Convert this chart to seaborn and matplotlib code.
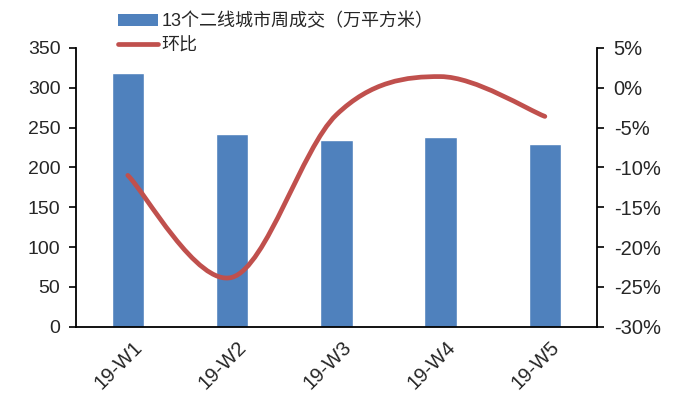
import numpy as np
import matplotlib
matplotlib.use("Agg")
import matplotlib.pyplot as plt
import matplotlib.transforms as mtransforms
from matplotlib.path import Path
from matplotlib.patches import PathPatch, Patch
from matplotlib.lines import Line2D
from matplotlib.ticker import MultipleLocator, FuncFormatter
import seaborn as sns

# Weekly transaction area of 13 second-tier cities and week-on-week change
weeks = ["19-W1", "19-W2", "19-W3", "19-W4", "19-W5"]
volume = [318, 242, 234, 238, 229]          # 万平方米
wow_pct = [-11.0, -23.8, -3.4, 1.4, -3.6]   # 环比, %

bar_label = "13个二线城市周成交（万平方米）"
line_label = "环比"

BLUE = "#4F81BD"
RED = "#C0504D"

sns.set_theme(style="white")
plt.rcParams["font.family"] = ["Liberation Sans", "Noto Sans CJK SC", "DejaVu Sans"]

fig = plt.figure(figsize=(6.9, 3.96), dpi=100)
ax = fig.add_axes([0.1097, 0.175, 0.7555, 0.704])

sns.barplot(x=weeks, y=volume, color=BLUE, width=0.31, saturation=1, ax=ax)
ax.set_xlim(-0.5, len(weeks) - 0.5)
ax.set_ylim(0, 350)
ax.yaxis.set_major_locator(MultipleLocator(50))
ax.set_xlabel("")
ax.set_ylabel("")

# category boundaries carry the tick marks, labels sit at the centres
ax.set_xticks(np.arange(len(weeks)))
ax.set_xticklabels(weeks, rotation=45, ha="right", rotation_mode="anchor")
ax.set_xticks(np.arange(-0.5, len(weeks)), minor=True)
ax.tick_params(axis="x", which="major", length=0, pad=8, labelsize=14.5)
ax.tick_params(axis="x", which="minor", length=5, width=1.2, direction="out", color="black")
ax.tick_params(axis="y", length=5, width=1.2, direction="out", color="black", labelsize=14, pad=6)
shift = mtransforms.ScaledTranslation(5 / 100, 0, fig.dpi_scale_trans)
for lbl in ax.get_xticklabels():
    lbl.set_transform(lbl.get_transform() + shift)

for side in ["left", "bottom"]:
    ax.spines[side].set_color("black")
    ax.spines[side].set_linewidth(1.3)
ax.spines["top"].set_visible(False)
ax.spines["right"].set_visible(False)

# secondary axis for the week-on-week change
ax2 = ax.twinx()
ax2.set_ylim(-30, 5)
ax2.yaxis.set_major_locator(MultipleLocator(5))
ax2.yaxis.set_major_formatter(FuncFormatter(lambda v, p: f"{v:.0f}%"))
ax2.tick_params(axis="y", length=5, width=1.2, direction="out", color="black", labelsize=14.5, pad=7)
ax2.spines["right"].set_color("black")
ax2.spines["right"].set_linewidth(1.3)
for side in ["left", "top", "bottom"]:
    ax2.spines[side].set_visible(False)
ax2.grid(False)
ax.grid(False)

# smoothed line: cubic Bezier segments through each point (Catmull-Rom style)
xs = np.arange(len(weeks), dtype=float)
ys = np.asarray(wow_pct, dtype=float)
pts = np.column_stack([xs, ys])
verts = [tuple(pts[0])]
codes = [Path.MOVETO]
n = len(pts)
for i in range(n - 1):
    p_prev = pts[i - 1] if i > 0 else pts[i]
    p_next2 = pts[i + 2] if i + 2 < n else pts[i + 1]
    c1 = pts[i] + (pts[i + 1] - p_prev) / 6.0
    c2 = pts[i + 1] - (p_next2 - pts[i]) / 6.0
    verts += [tuple(c1), tuple(c2), tuple(pts[i + 1])]
    codes += [Path.CURVE4] * 3
curve = PathPatch(Path(verts, codes), facecolor="none", edgecolor=RED,
                  linewidth=3.4, capstyle="round", joinstyle="round", zorder=5)
ax2.add_patch(curve)

handles = [Patch(facecolor=BLUE, edgecolor="none"),
           Line2D([0], [0], color=RED, linewidth=3.4, solid_capstyle="round")]
fig.legend(handles, [bar_label, line_label], loc="upper left",
           bbox_to_anchor=(0.158, 0.99), frameon=False, fontsize=13,
           handlelength=2.2, handleheight=0.65, handletextpad=0.2,
           labelspacing=0.4, borderaxespad=0.3, borderpad=0.2)

fig.savefig("out.png", dpi=100)
